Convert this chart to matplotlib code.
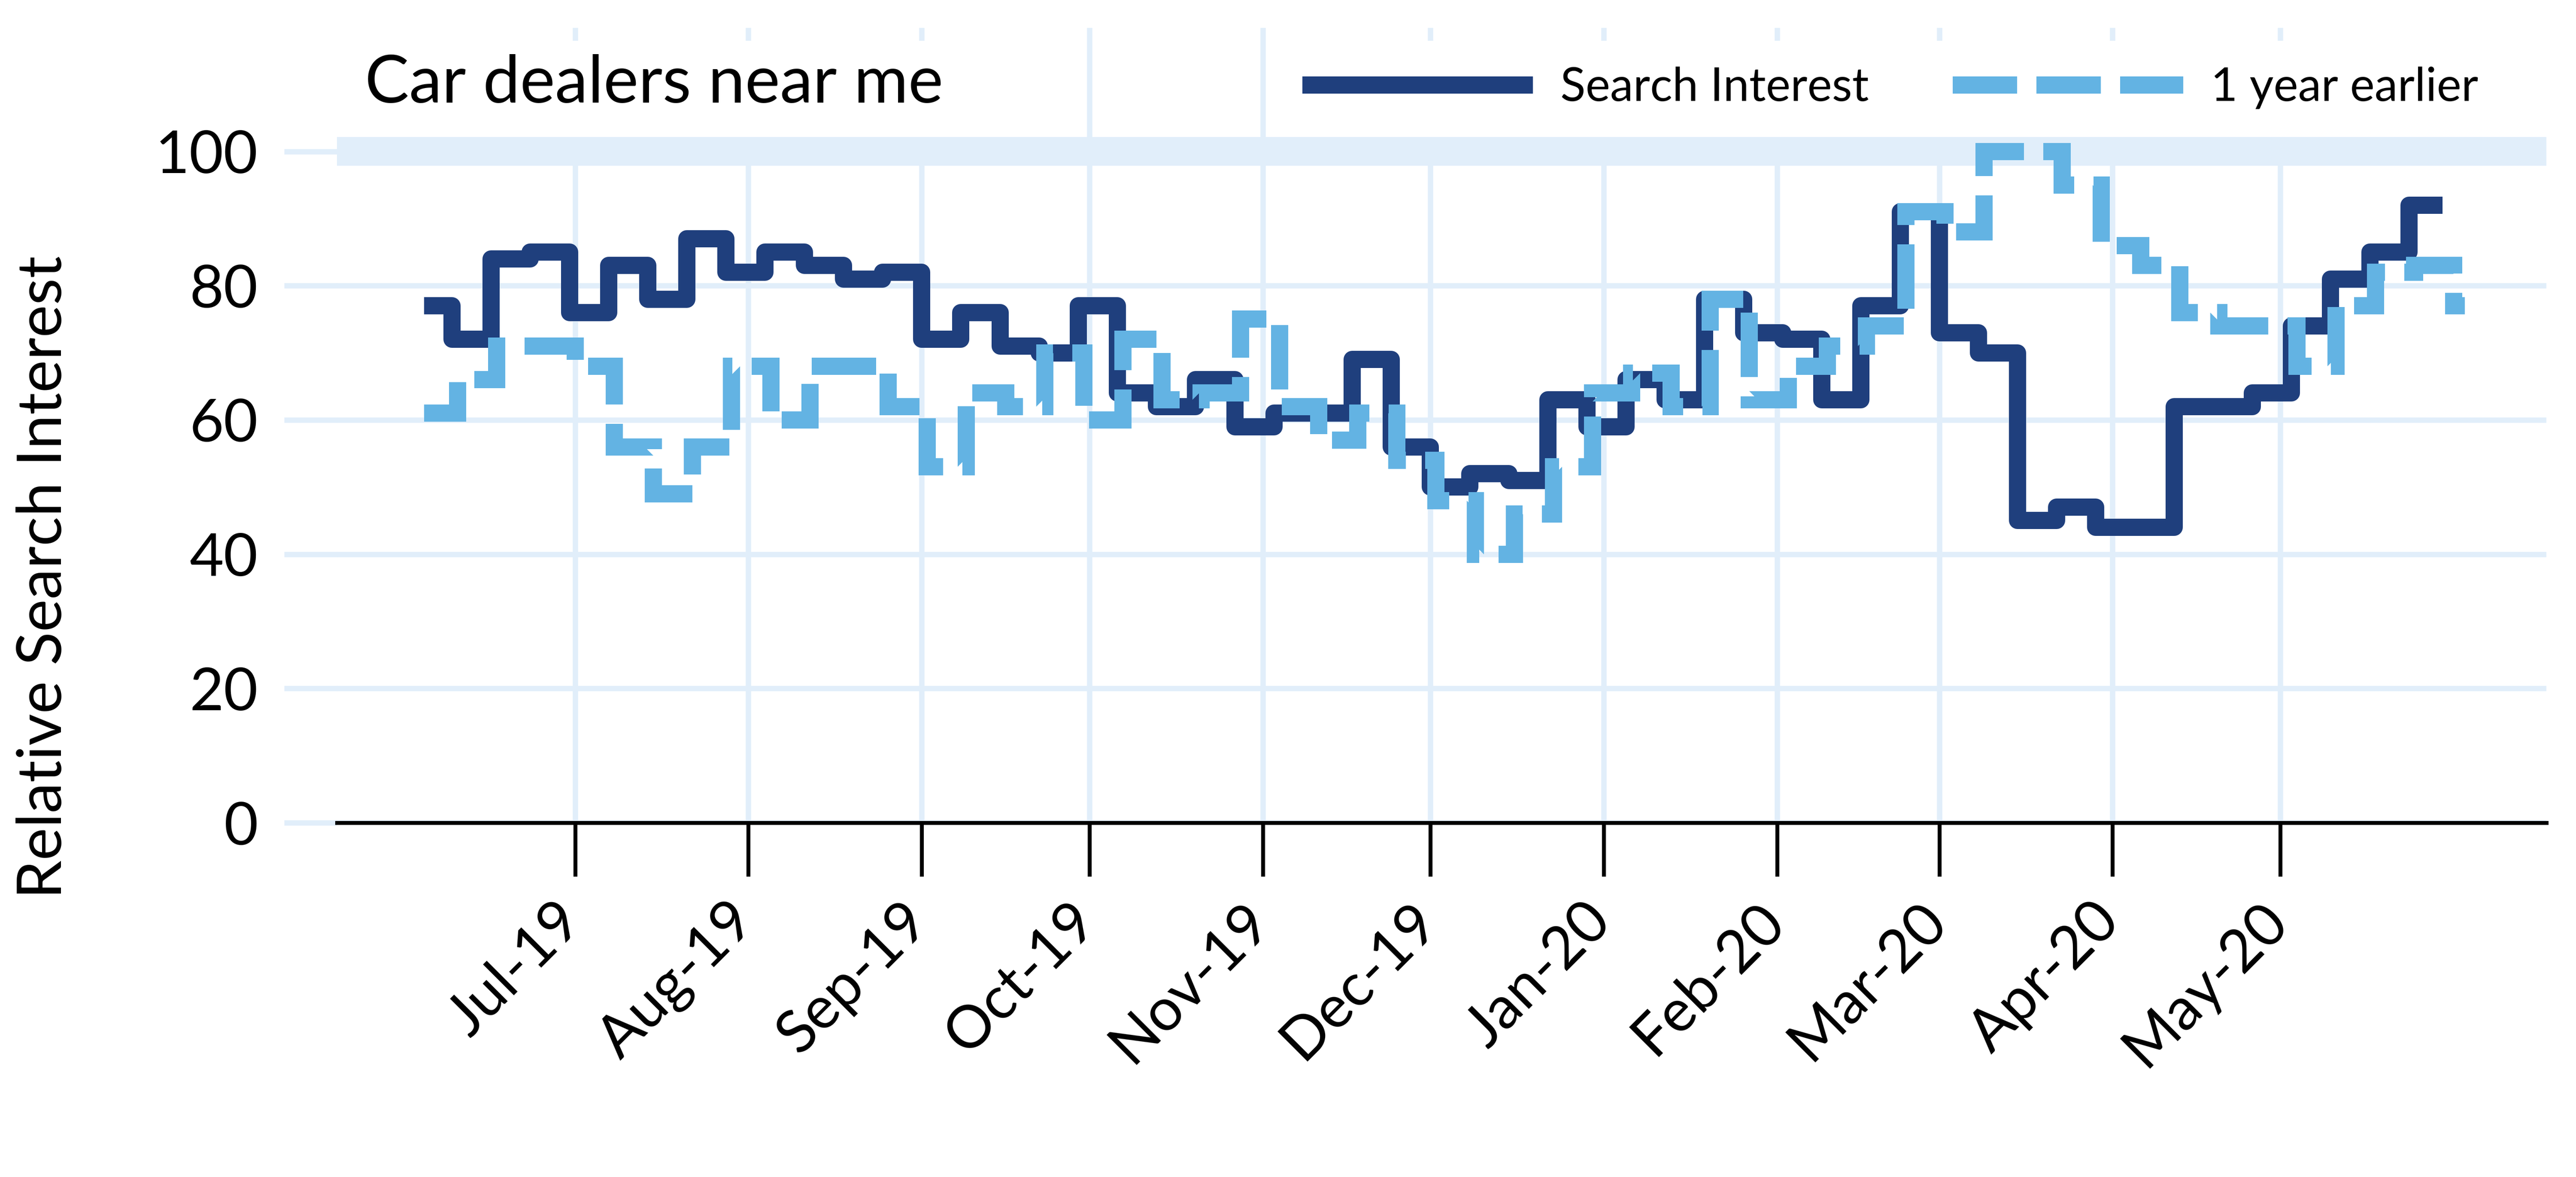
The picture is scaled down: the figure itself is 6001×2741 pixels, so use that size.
import matplotlib
matplotlib.use("Agg")
import matplotlib.pyplot as plt
import matplotlib.dates as mdates
import matplotlib.transforms as mtransforms
from matplotlib.lines import Line2D
from matplotlib.patches import Rectangle
import pandas as pd

plt.rcParams["font.family"] = ["Lato", "DejaVu Sans"]

title = "Car dealers near me"
y_label = "Relative Search Interest"
series_labels = ["Search Interest", "1 year earlier"]

# weekly values, weeks change on Sundays; first week starts Jun 4
search_start = "2019-06-04"
search_end = "2020-05-30"
search_weeks = pd.date_range("2019-06-09", "2020-05-24", freq="7D")
search_interest = [77, 72, 84, 85, 76, 83, 78, 87, 82, 85, 83, 81, 82,
                   72, 76, 71, 70, 77, 64, 62, 66, 59, 61, 61, 69, 56,
                   50, 52, 51, 63, 59, 66, 63, 78, 73, 72, 63, 77, 91,
                   73, 70, 45, 47, 44, 44, 62, 62, 64, 74, 81, 85, 92]

# same weeks one year earlier (shifted by a day -> change on Mondays)
prev_start = "2019-06-04"
prev_end = "2020-06-03"
prev_weeks = pd.date_range("2019-06-10", "2020-06-01", freq="7D")
year_earlier = [61, 66, 71, 71, 68, 56, 49, 56, 68, 60, 68, 68, 62,
                53, 64, 62, 70, 60, 72, 63, 64, 75, 62, 57, 61, 54,
                48, 40, 46, 53, 64, 67, 62, 78, 63, 68, 71, 74, 91,
                88, 100, 100, 95, 86, 83, 76, 74, 74, 68, 77, 82, 83, 77]

month_ticks = pd.date_range("2019-07-01", "2020-05-01", freq="MS")
y_ticks = [0, 20, 40, 60, 80, 100]
band = (97.85, 102.15)

dark = "#1F3F7D"
light = "#63B3E3"
grid_c = "#E1EEFA"

W, H = 6001, 2741
fig = plt.figure(figsize=(W / 300, H / 300), dpi=300)
ax = fig.add_axes([785 / W, 1 - 1916 / H, (5932 - 785) / W, (1916 - 65) / H])


def edges_of(start, weeks, end):
    idx = pd.DatetimeIndex([pd.Timestamp(start), *weeks, pd.Timestamp(end)])
    return mdates.date2num(idx.to_pydatetime())


ax.stairs(search_interest, edges_of(search_start, search_weeks, search_end),
          baseline=None, color=dark, linewidth=9.6, joinstyle="round",
          capstyle="butt", zorder=3)
ax.stairs(year_earlier, edges_of(prev_start, prev_weeks, prev_end),
          baseline=None, color=light, linewidth=9.6,
          linestyle=(0, (3.75, 1.125)), joinstyle="miter", capstyle="butt",
          zorder=4)

ax.axhspan(*band, color=grid_c, lw=0, zorder=0.6)

ax.xaxis_date()
ax.set_xlim(mdates.date2num(pd.Timestamp("2019-05-19 10:00")),
            mdates.date2num(pd.Timestamp("2020-06-17 14:00")))
ax.set_ylim(0, 118.4)
ax.set_xticks(mdates.date2num(month_ticks.to_pydatetime()))
ax.set_xticklabels([d.strftime("%b-%y") for d in month_ticks])
ax.set_yticks(y_ticks)

ax.set_axisbelow(True)
ax.grid(True, color=grid_c, lw=3.0)
for s in ["top", "right", "left"]:
    ax.spines[s].set_visible(False)
ax.spines["bottom"].set_linewidth(2.2)
ax.spines["bottom"].set_color("black")

ax.tick_params(axis="y", length=29.5, width=3.0, color=grid_c, pad=14.6,
               labelsize=33)
ax.tick_params(axis="x", length=30, width=2.2, color="black", pad=9.4,
               labelsize=33)
shift = mtransforms.ScaledTranslation(9.4 / 72, 0, fig.dpi_scale_trans)
for lab in ax.get_xticklabels():
    lab.set_rotation(45)
    lab.set_ha("right")
    lab.set_transform(lab.get_transform() + shift)

# white panels behind the title and the legend
box_tf = mtransforms.blended_transform_factory(ax.transAxes, ax.transData)
ax.add_patch(Rectangle((0, 102.15), 0.30, 14.35, transform=box_tf,
                       facecolor="white", edgecolor="none", zorder=1))
ax.add_patch(Rectangle((0.43, 102.15), 0.57, 14.35, transform=box_tf,
                       facecolor="white", edgecolor="none", zorder=1))

fig.text(850 / W, 1 - 239 / H, title, fontsize=37, ha="left", va="baseline")
fig.text(143 / W, 1 - 1344 / H, y_label, fontsize=34.5, rotation=90,
         rotation_mode="anchor", ha="center", va="baseline")

handles = [Line2D([], [], color=dark, lw=9.6, solid_capstyle="butt"),
           Line2D([], [], color=light, lw=9.6, dashes=(3.75, 1.125),
                  dash_capstyle="butt")]
fig.legend(handles, series_labels, loc="center left",
           bbox_to_anchor=(3034 / W, 1 - 205 / H), ncol=2, frameon=False,
           fontsize=26, handlelength=4.96, handletextpad=0.59,
           columnspacing=1.8, borderpad=0, borderaxespad=0)

fig.savefig("out.png", dpi=300)
